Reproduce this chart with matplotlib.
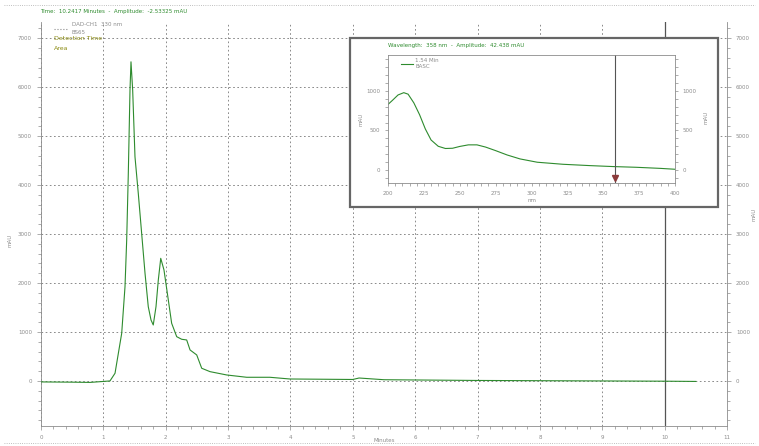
import numpy as np
import matplotlib
matplotlib.use("Agg")
import matplotlib.pyplot as plt
from matplotlib.lines import Line2D
from matplotlib.patches import Rectangle
from matplotlib.ticker import MultipleLocator

# Chromatogram, DAD channel 1 (minutes, mAU)
t_min = [0.0, 0.5, 0.786, 1.106, 1.187, 1.294, 1.347, 1.374, 1.40, 1.427, 1.443,
         1.47, 1.507, 1.56, 1.614, 1.668, 1.72, 1.764, 1.80, 1.844, 1.881, 1.92,
         1.972, 2.026, 2.095, 2.176, 2.256, 2.336, 2.39, 2.497, 2.577, 2.71,
         2.978, 3.298, 3.67, 3.99, 4.5, 5.0, 5.1, 5.5, 6.0, 7.0, 8.0, 9.0,
         10.0, 10.5]
signal = [-20, -25, -30, 0, 157, 973, 1925, 2878, 4239, 5939, 6517,
          5939, 4578, 3830, 3014, 2198, 1517, 1245, 1143, 1517, 2061, 2504,
          2266, 1790, 1178, 904, 851, 837, 633, 531, 259, 190,
          122, 75, 75, 40, 35, 30, 60, 25, 20, 10, 5, 0,
          -5, -10]

# UV spectrum at 1.54 min (nm, mAU)
wl_nm = [200, 203, 207, 211, 214, 218, 222, 226, 230, 235, 240, 245, 250,
         256, 262, 268, 275, 283, 292, 304, 322, 341, 357, 373, 390, 400]
absorb = [830, 880, 950, 979, 960, 850, 700, 520, 380, 300, 272, 275, 298,
          318, 318, 290, 245, 190, 140, 98, 72, 55, 43, 34, 20, 9]

cursor_min = 10.0
cursor_nm = 358

green = "#2e8b2e"
grey = "#8c8c8c"

fig = plt.figure(figsize=(7.59, 4.46), dpi=100)

ax = fig.add_axes([41 / 759, 1 - 426 / 446, 686 / 759, 404 / 446])
ax.plot(t_min, signal, color=green, lw=0.8, zorder=3)
ax.axvline(cursor_min, color="#555555", lw=0.9, zorder=2)
ax.set_xlim(0, 11)
ax.set_ylim(-920, 7330)
ax.xaxis.set_major_locator(MultipleLocator(1))
ax.xaxis.set_minor_locator(MultipleLocator(0.2))
ax.yaxis.set_major_locator(MultipleLocator(1000))
ax.yaxis.set_minor_locator(MultipleLocator(200))
ax.grid(True, which="major", color="#777777", ls=(0, (2, 3)), lw=0.6)
ax.tick_params(which="both", labelsize=4, colors=grey, length=2, width=0.5,
               right=True, labelright=True)
ax.tick_params(which="major", length=3)
for side in ["left", "bottom", "right"]:
    ax.spines[side].set_color(grey)
    ax.spines[side].set_linewidth(0.6)
ax.spines["top"].set_visible(False)

fig.text(384 / 759, 1 - 440 / 446, "Minutes", fontsize=4, color=grey,
         ha="center", va="center")
fig.text(10 / 759, 1 - 240 / 446, "mAU", fontsize=4, color=grey,
         rotation=90, ha="center", va="center")
fig.text(754 / 759, 1 - 214 / 446, "mAU", fontsize=4, color=grey,
         rotation=90, ha="center", va="center")

# header and legend
fig.text(40 / 759, 1 - 11 / 446,
         "Time:  10.2417 Minutes  -  Amplitude:  -2.53325 mAU",
         fontsize=4, color=green, va="center")
fig.add_artist(Line2D([0.005, 0.995], [1 - 5 / 446, 1 - 5 / 446],
                      color="#aaaaaa", lw=0.6, ls=":"))
fig.add_artist(Line2D([0.005, 0.995], [1 - 443 / 446, 1 - 443 / 446],
                      color="#aaaaaa", lw=0.6, ls=":"))
fig.add_artist(Line2D([54 / 759, 67 / 759], [1 - 29 / 446, 1 - 29 / 446],
                      color=grey, lw=0.8, ls=":"))
fig.text(72 / 759, 1 - 25 / 446, "DAD-CH1  330 nm", fontsize=4, color=grey,
         va="center")
fig.text(72 / 759, 1 - 32 / 446, "BS65", fontsize=4, color=grey, va="center")
fig.text(54 / 759, 1 - 39 / 446, "Detection Time", fontsize=4.5,
         color="#8a8a10", va="center")
fig.text(54 / 759, 1 - 49 / 446, "Area", fontsize=4.5, color="#8a8a10",
         va="center")

# spectrum inset
fig.add_artist(Rectangle((350 / 759, 1 - 207 / 446), 368 / 759, 169 / 446,
                         facecolor="white", edgecolor="#666666", lw=1.6,
                         zorder=4))
ins = fig.add_axes([388 / 759, 1 - 183 / 446, 287 / 759, 128 / 446], zorder=5)
ins.plot(wl_nm, absorb, color=green, lw=0.8)
ins.axvline(cursor_nm, color="#555555", lw=0.8)
ins.plot([cursor_nm], [-100], marker="v", color="#8b3a3a", ms=4, clip_on=False)
ins.set_xlim(200, 400)
ins.set_ylim(-165, 1456)
ins.xaxis.set_major_locator(MultipleLocator(25))
ins.xaxis.set_minor_locator(MultipleLocator(5))
ins.yaxis.set_major_locator(MultipleLocator(500))
ins.yaxis.set_minor_locator(MultipleLocator(100))
ins.tick_params(which="both", labelsize=4, colors=grey, length=2, width=0.5,
                right=True, labelright=True)
for side in ins.spines.values():
    side.set_color(grey)
    side.set_linewidth(0.6)
ins.set_xlabel("nm", fontsize=4, color=grey, labelpad=2)
ins.set_ylabel("mAU", fontsize=4, color=grey, labelpad=2)
fig.text(706 / 759, 1 - 117 / 446, "mAU", fontsize=4, color=grey,
         rotation=90, ha="center", va="center", zorder=6)

amp = np.interp(cursor_nm, wl_nm, absorb)
fig.text(388 / 759, 1 - 46 / 446,
         f"Wavelength:  {cursor_nm} nm  -  Amplitude:  {amp:.3f} mAU",
         fontsize=4, color=green, va="center", zorder=6)
fig.add_artist(Line2D([401 / 759, 413 / 759], [1 - 64 / 446, 1 - 64 / 446],
                      color=green, lw=0.8, zorder=6))
fig.text(415 / 759, 1 - 60 / 446, "1.54 Min", fontsize=4, color=grey,
         va="center", zorder=6)
fig.text(415 / 759, 1 - 67 / 446, "BASC", fontsize=4, color=grey,
         va="center", zorder=6)

fig.savefig("out.png", dpi=100)
